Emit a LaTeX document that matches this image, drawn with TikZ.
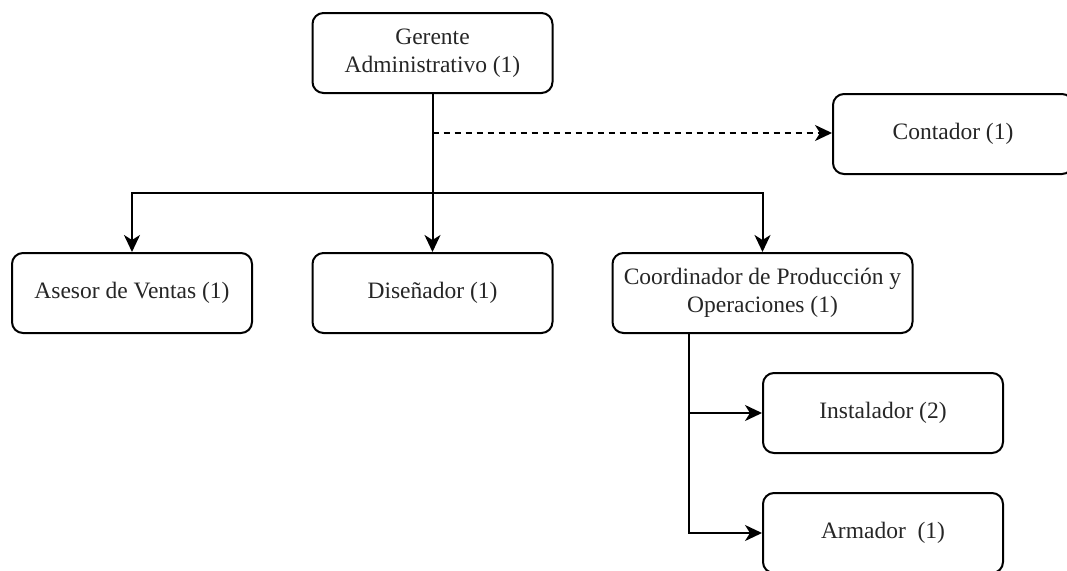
\documentclass[tikz,border=0pt]{standalone}
\usepackage{fontspec}
\setmainfont{Liberation Serif}
\usetikzlibrary{arrows.meta}
\begin{document}
\begin{tikzpicture}[x=1pt,y=-1pt,
  box/.style={draw=black, line width=2pt, rounded corners=11pt, fill=white,
    minimum width=240pt, minimum height=80pt, align=center, inner sep=0pt,
    font=\fontsize{23.5}{28}\selectfont, text=black!85},
  conn/.style={draw=black, line width=2pt, -{Stealth[length=17pt,width=16pt,inset=5pt]}},
  dconn/.style={conn, dash pattern=on 6pt off 5pt}
]
\useasboundingbox (0,0) rectangle (1067,570);
\clip (0,0) rectangle (1067,570);
\node[box] (ger) at (432.5,53) {Gerente\\Administrativo (1)};
\node[box] (con) at (953,134) {Contador (1)};
\node[box] (ase) at (132,293) {Asesor de Ventas (1)};
\node[box] (dis) at (432.5,293) {Diseñador (1)};
\node[box, minimum width=300pt] (coo) at (762.5,293) {Coordinador de Producción y\\Operaciones (1)};
\node[box] (ins) at (883,413) {Instalador (2)};
\node[box] (arm) at (883,533) {Armador~~(1)};
\coordinate (j) at (432.5,193);
\coordinate (d) at (432.5,133);
\coordinate (cb) at (689,333);
\draw[conn] (ger.south) -- (dis.north);
\draw[conn] (j) -| (ase.north);
\draw[conn] (j) -| (coo.north);
\draw[dconn] (d) -- (d -| con.west);
\draw[conn] (cb) |- (ins.west);
\draw[conn] (cb) |- (arm.west);
\end{tikzpicture}
\end{document}
